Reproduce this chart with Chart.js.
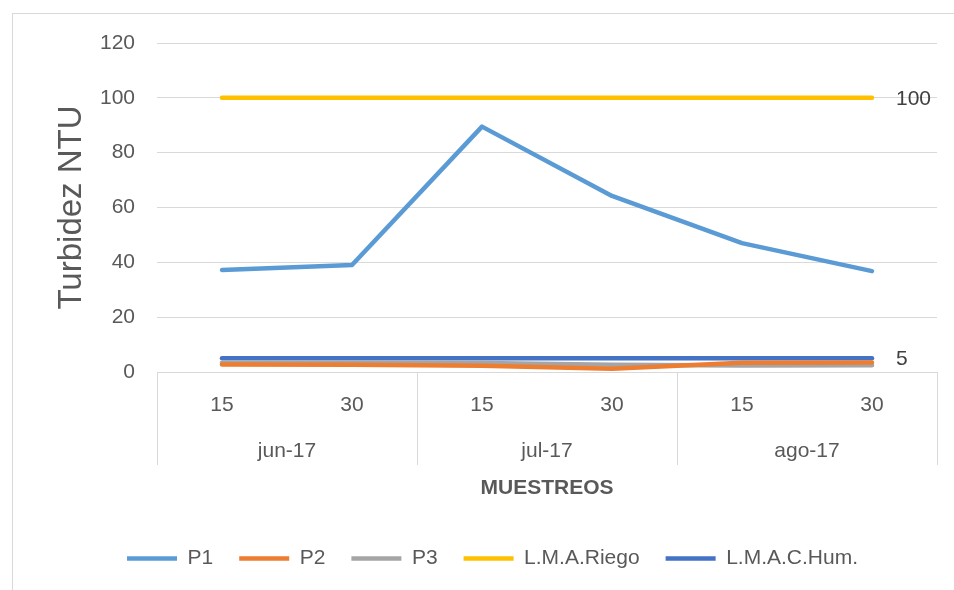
<!DOCTYPE html>
<html>
<head>
<meta charset="utf-8">
<script src="https://cdn.jsdelivr.net/npm/chart.js@4"></script>
<style>
  body { margin: 0; background: #fff; }
  #wrap { position: relative; width: 954px; height: 590px; }
  #frame { position: absolute; left: 12px; top: 13px; right: 0; bottom: 0;
           border-top: 1px solid #d9d9d9; border-left: 1px solid #d9d9d9; }
  #chart-turbidez { position: absolute; left: 0; top: 0; }
</style>
</head>
<body>
<div id="wrap">
  <div id="frame"></div>
  <canvas id="chart-turbidez" width="954" height="590"></canvas>
</div>
<script>
// datos de los muestreos
const days = ['15', '30', '15', '30', '15', '30'];
const months = ['jun-17', 'jul-17', 'ago-17'];
const p1 = [37.2, 39.0, 89.5, 64.2, 47, 36.8];
const p2 = [2.7, 2.6, 2.3, 1.2, 3.4, 3.5];
const p3 = [3.4, 3.4, 3.3, 2.6, 2.4, 2.5];
const lmaRiego = [100, 100, 100, 100, 100, 100];
const lmacHum = [5, 5, 5, 5, 5, 5];
const yTicks = [0, 20, 40, 60, 80, 100, 120];

const textColor = '#595959';
const gridColor = '#d9d9d9';
const fontFamily = "'Liberation Sans', Arial, sans-serif";

function makeLine(label, values, color){
    return {
        label: label,
        data: values,
        borderColor: color,
        backgroundColor: color,
        borderWidth: 4.5,
        borderCapStyle: 'round',
        borderJoinStyle: 'round',
        pointRadius: 0,
        pointHoverRadius: 0,
        tension: 0,
        xAxisID: 'x'
    };
}

// separadores verticales entre meses
const monthSeparators = {
    id: 'monthSeparators',
    afterDraw(chart){
        const ctx = chart.ctx;
        const x2 = chart.scales.x2;
        const top = chart.chartArea.bottom;
        const bottom = top + 93;
        ctx.save();
        ctx.strokeStyle = gridColor;
        ctx.lineWidth = 1;
        for (let k = 0; k <= months.length; k++) {
            const px = Math.round(x2.getPixelForValue(k - 0.5)) + 0.5;
            ctx.beginPath();
            ctx.moveTo(px, top);
            ctx.lineTo(px, bottom);
            ctx.stroke();
        }
        ctx.restore();
    }
};

// etiqueta al final de las lineas limite
const endLabels = {
    id: 'endLabels',
    afterDatasetsDraw(chart){
        const ctx = chart.ctx;
        ctx.save();
        ctx.font = '21px ' + fontFamily;
        ctx.fillStyle = '#404040';
        ctx.textBaseline = 'middle';
        [3, 4].forEach(i => {
            const meta = chart.getDatasetMeta(i);
            const last = meta.data[meta.data.length - 1];
            const values = chart.data.datasets[i].data;
            ctx.fillText(String(values[values.length - 1]), last.x + 24, last.y + 1);
        });
        ctx.restore();
    }
};

const data = {
    labels: days,
    datasets: [
        makeLine('P1', p1, '#5b9bd5'),
        makeLine('P2', p2, '#ed7d31'),
        makeLine('P3', p3, '#a5a5a5'),
        makeLine('L.M.A.Riego', lmaRiego, '#ffc000'),
        makeLine('L.M.A.C.Hum.', lmacHum, '#4472c4')
    ]
};

const config = {
    type: 'line',
    data,
    options: {
        responsive: false,
        animation: false,
        devicePixelRatio: 1,
        layout: {
            padding: { top: 43, right: 17, left: 48, bottom: 11 }
        },
        scales: {
            y: {
                min: 0,
                max: 120,
                afterBuildTicks: scale => { scale.ticks = yTicks.map(v => ({ value: v })); },
                afterFit: scale => { scale.width = 109; },
                grid: { color: gridColor, drawTicks: false },
                border: { display: false },
                ticks: { color: textColor, padding: 22, font: { size: 21, family: fontFamily } },
                title: {
                    display: true,
                    text: 'Turbidez NTU',
                    color: textColor,
                    padding: { top: 4, bottom: 0 },
                    font: { size: 33, family: fontFamily }
                }
            },
            x: {
                type: 'category',
                labels: days,
                offset: true,
                afterFit: scale => { scale.height = 50; },
                grid: { display: false },
                border: { display: false },
                ticks: { color: textColor, padding: 13, maxRotation: 0, font: { size: 21, family: fontFamily } }
            },
            x2: {
                type: 'category',
                position: 'bottom',
                labels: months,
                offset: true,
                afterFit: scale => { scale.height = 100; },
                grid: { display: false },
                border: { display: false },
                ticks: { color: textColor, padding: 9, maxRotation: 0, font: { size: 21, family: fontFamily } },
                title: {
                    display: true,
                    text: 'MUESTREOS',
                    color: textColor,
                    padding: { top: 0, bottom: 21 },
                    font: { size: 21, weight: 'bold', family: fontFamily }
                }
            }
        },
        plugins: {
            legend: {
                display: true,
                position: 'bottom',
                labels: {
                    color: textColor,
                    usePointStyle: true,
                    pointStyle: 'line',
                    pointStyleWidth: 50,
                    padding: 26,
                    font: { size: 21, family: fontFamily }
                }
            },
            tooltip: { enabled: false }
        }
    },
    plugins: [monthSeparators, endLabels]
};

var myChart = new Chart(
    document.getElementById('chart-turbidez').getContext('2d'),
    config
);
</script>
</body>
</html>
